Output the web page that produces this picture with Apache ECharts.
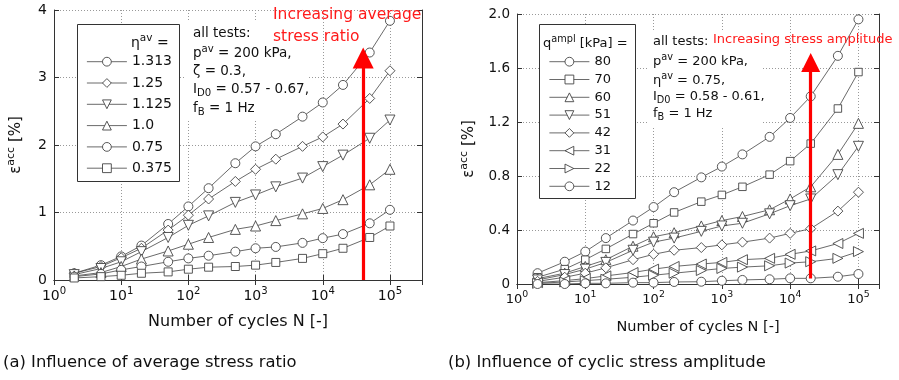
<!DOCTYPE html>
<html><head><meta charset="utf-8">
<script src="https://cdn.jsdelivr.net/npm/echarts@6/dist/echarts.min.js"></script>
<style>html,body{margin:0;padding:0;background:#fff}#c{width:899px;height:380px}</style>
</head><body><div id="c"></div>
<script>
// ---- data ----
const N = [2,5,10,20,50,100,200,500,1000,2000,5000,10000,20000,50000,100000];
// (a) average stress ratio
const etaNames = ['1.313','1.25','1.125','1.0','0.75','0.375'];
const eta1313 = [0.1,0.22,0.35,0.51,0.83,1.09,1.36,1.73,1.98,2.16,2.42,2.63,2.89,3.37,3.84];
const eta125  = [0.1,0.2,0.33,0.47,0.74,0.96,1.2,1.46,1.64,1.79,1.98,2.12,2.31,2.69,3.1];
const eta1125 = [0.08,0.17,0.27,0.42,0.63,0.81,0.95,1.15,1.26,1.38,1.51,1.68,1.85,2.1,2.37];
const eta10   = [0.06,0.11,0.2,0.31,0.43,0.53,0.63,0.75,0.8,0.88,0.98,1.06,1.19,1.41,1.64];
const eta075  = [0.05,0.09,0.15,0.2,0.27,0.32,0.36,0.42,0.47,0.49,0.55,0.62,0.68,0.84,1.04];
const eta0375 = [0.03,0.05,0.07,0.1,0.12,0.16,0.19,0.2,0.22,0.26,0.32,0.39,0.47,0.63,0.8];
// (b) cyclic stress amplitude
const qNames = ['80','70','60','51','42','31','22','12'];
const q80 = [0.08,0.165,0.24,0.34,0.47,0.57,0.68,0.79,0.87,0.96,1.09,1.23,1.39,1.69,1.96];
const q70 = [0.05,0.11,0.18,0.26,0.37,0.45,0.53,0.61,0.66,0.72,0.81,0.91,1.04,1.3,1.57];
const q60 = [0.04,0.08,0.13,0.18,0.28,0.35,0.38,0.43,0.47,0.5,0.55,0.63,0.72,0.96,1.19];
const q51 = [0.03,0.07,0.11,0.16,0.25,0.31,0.34,0.39,0.43,0.45,0.52,0.58,0.63,0.81,1.02];
const q42 = [0.02,0.05,0.08,0.12,0.18,0.22,0.25,0.27,0.29,0.31,0.34,0.375,0.41,0.54,0.68];
const q31 = [0.01,0.025,0.04,0.06,0.085,0.11,0.13,0.148,0.16,0.18,0.19,0.22,0.245,0.3,0.375];
const q22 = [0.005,0.015,0.025,0.035,0.05,0.065,0.08,0.1,0.115,0.125,0.135,0.155,0.165,0.19,0.24];
const q12 = [0,0,0.005,0.005,0.01,0.01,0.015,0.017,0.024,0.03,0.035,0.042,0.042,0.054,0.074];
// axes
const xMinA = 1, xMaxA = 300000, yMaxA = 4, yIntA = 1;
const xMinB = 1, xMaxB = 200000, yMaxB = 2, yIntB = 0.4;
// arrows [N, from, to]
const arrowA = [40000, 0, 3.29];
const arrowB = [20000, 0.04, 1.64];

const FONT = 'DejaVu Sans';
const LC = '#444';
const chart = echarts.init(document.getElementById('c'));

function mk(name, vals, symbol, rot, xi, yi, size) {
  return {name, type:'line', xAxisIndex:xi, yAxisIndex:yi,
    data: N.map((n,i)=>[n, vals[i]]), symbol, symbolRotate: rot, symbolSize: size,
    showAllSymbol:true, lineStyle:{color:LC,width:0.8},
    itemStyle:{color:'#fff',borderColor:LC,borderWidth:0.9},
    emphasis:{disabled:true}, animation:false, z:3};
}
function logLabel(v){ const e=Math.log10(v); const r=Math.round(e); if(Math.abs(e-r)>1e-6) return ''; return '{b|10}{s|'+r+'}'; }
function xAx(gi, pos, max, fs, main, nameGap) {
  return {type:'log', gridIndex:gi, position:pos, min:1, max:max, logBase:10,
    axisLine:{show:true,lineStyle:{color:'#333',width:1}},
    axisTick:{show:true,inside:true,length:5,lineStyle:{color:'#333'}},
    minorTick:{show:false},
    splitLine:{show:main,lineStyle:{color:'#999',type:[1,2],width:1}},
    axisLabel:{show:main,formatter:logLabel,margin:6,color:'#111',
      rich:{b:{fontSize:fs,fontFamily:FONT,color:'#111'},s:{fontSize:fs*0.72,fontFamily:FONT,color:'#111',padding:[0,0,fs*0.75,0]}}},
    name: main ? 'Number of cycles N [-]' : '', nameLocation:'middle', nameGap:nameGap,
    nameTextStyle:{fontSize: gi===0?16:14.5, fontFamily:FONT, color:'#111'}};
}
function yAx(gi, pos, max, interval, fs, main, nameGap, fmt) {
  return {type:'value', gridIndex:gi, position:pos, min:0, max:max, interval:interval,
    axisLine:{show:true,lineStyle:{color:'#333',width:1}},
    axisTick:{show:true,inside:true,length:5,lineStyle:{color:'#333'}},
    splitLine:{show:main,lineStyle:{color:'#999',type:[1,2],width:1}},
    axisLabel:{show:main,fontSize:fs,fontFamily:FONT,color:'#111',margin:7,formatter:fmt},
    name: main ? '{e|ε}{s|acc}{e| [%]}' : '', nameLocation:'middle', nameRotate:90, nameGap:nameGap,
    nameTextStyle:{rich:{e:{fontSize:15,fontFamily:FONT,color:'#111'},s:{fontSize:11,fontFamily:FONT,color:'#111',padding:[0,0,9,0]}}}};
}

const seriesA = [
  mk(etaNames[0], eta1313, 'circle', 0, 0, 0, 9),
  mk(etaNames[1], eta125, 'diamond', 0, 0, 0, 10),
  mk(etaNames[2], eta1125, 'triangle', 180, 0, 0, 10),
  mk(etaNames[3], eta10, 'triangle', 0, 0, 0, 10),
  mk(etaNames[4], eta075, 'circle', 0, 0, 0, 9),
  mk(etaNames[5], eta0375, 'rect', 0, 0, 0, 8),
];
const seriesB = [
  mk(qNames[0], q80, 'circle', 0, 2, 2, 9),
  mk(qNames[1], q70, 'rect', 0, 2, 2, 7.5),
  mk(qNames[2], q60, 'triangle', 0, 2, 2, 10),
  mk(qNames[3], q51, 'triangle', 180, 2, 2, 10),
  mk(qNames[4], q42, 'diamond', 0, 2, 2, 10),
  mk(qNames[5], q31, 'triangle', 90, 2, 2, 10),
  mk(qNames[6], q22, 'triangle', -90, 2, 2, 10),
  mk(qNames[7], q12, 'circle', 0, 2, 2, 9),
];
function arrowLine(a, size){
  return {silent:true, animation:false, symbol:['none','triangle'], symbolSize:size,
    label:{show:false}, lineStyle:{color:'#ff0000',width:3.2,type:'solid'},
    data:[[{coord:[a[0],a[1]]},{coord:[a[0],a[2]]}]], z:10};
}
seriesA[5].markLine = arrowLine(arrowA, 21);
seriesB[7].markLine = arrowLine(arrowB, 19);

const supR = (fs)=>({n:{fontSize:fs,fontFamily:FONT,fill:'#111'}, s:{fontSize:fs*0.75,fontFamily:FONT,fill:'#111',padding:[0,0,fs*0.7,0]}, d:{fontSize:fs*0.75,fontFamily:FONT,fill:'#111',padding:[fs*0.6,0,0,0]}});

const graphic = [
  {type:'rect', shape:{x:186,y:22,width:122,height:97}, style:{fill:'#fff'}, z:1},
  {type:'rect', shape:{x:648,y:30,width:115,height:98}, style:{fill:'#fff'}, z:1},
  {type:'rect', shape:{x:77.5,y:24.5,width:102,height:157}, style:{fill:'#fff',stroke:'#333',lineWidth:1}, z:2},
  {type:'rect', shape:{x:539.5,y:24.5,width:96,height:174}, style:{fill:'#fff',stroke:'#333',lineWidth:1}, z:2},
  // legend titles
  {type:'text', z:20, style:{text:'{n|η}{s|av}{n| =}', x:131, y:33, rich:supR(14), fontFamily:FONT}},
  {type:'text', z:20, style:{text:'{n|q}{s|ampl}{n| [kPa] =}', x:543, y:34, rich:supR(13), fontFamily:FONT}},
  // annotation (a)
  {type:'text', z:20, style:{text:'{n|all tests:}', x:193, y:26, rich:supR(13.5), fontFamily:FONT}},
  {type:'text', z:20, style:{text:'{n|p}{s|av}{n| = 200 kPa,}', x:193, y:44, rich:supR(13.5), fontFamily:FONT}},
  {type:'text', z:20, style:{text:'{n|ζ = 0.3,}', x:193, y:64, rich:supR(13.5), fontFamily:FONT}},
  {type:'text', z:20, style:{text:'{n|I}{d|D0}{n| = 0.57 - 0.67,}', x:193, y:80, rich:supR(13.5), fontFamily:FONT}},
  {type:'text', z:20, style:{text:'{n|f}{d|B}{n| = 1 Hz}', x:193, y:99, rich:supR(13.5), fontFamily:FONT}},
  // annotation (b)
  {type:'text', z:20, style:{text:'{n|all tests:}', x:653, y:35, rich:supR(13), fontFamily:FONT}},
  {type:'text', z:20, style:{text:'{n|p}{s|av}{n| = 200 kPa,}', x:653, y:52, rich:supR(13), fontFamily:FONT}},
  {type:'text', z:20, style:{text:'{n|η}{s|av}{n| = 0.75,}', x:653, y:71, rich:supR(13), fontFamily:FONT}},
  {type:'text', z:20, style:{text:'{n|I}{d|D0}{n| = 0.58 - 0.61,}', x:653, y:88, rich:supR(13), fontFamily:FONT}},
  {type:'text', z:20, style:{text:'{n|f}{d|B}{n| = 1 Hz}', x:653, y:105, rich:supR(13), fontFamily:FONT}},
  // red annotations
  {type:'text', z:20, style:{text:'Increasing average', x:273, y:15, fontSize:15.5, fontFamily:FONT, fill:'#ff1a1a', verticalAlign:'middle'}},
  {type:'text', z:20, style:{text:'stress ratio', x:273, y:36.5, fontSize:15.5, fontFamily:FONT, fill:'#ff1a1a', verticalAlign:'middle'}},
  {type:'text', z:20, style:{text:'Increasing stress amplitude', x:713, y:40, fontSize:13, fontFamily:FONT, fill:'#ff1a1a', verticalAlign:'middle'}},
  // captions
  {type:'text', z:20, style:{text:'(a) Influence of average stress ratio', x:3, y:363, fontSize:16.4, fontFamily:FONT, fill:'#111', verticalAlign:'middle'}},
  {type:'text', z:20, style:{text:'(b) Influence of cyclic stress amplitude', x:448, y:363, fontSize:16.4, fontFamily:FONT, fill:'#111', verticalAlign:'middle'}},
];

chart.setOption({
  animation:false,
  backgroundColor:'#fff',
  grid:[{left:54,top:10,width:368,height:270},{left:517,top:14,width:362,height:270}],
  xAxis:[xAx(0,'bottom',xMaxA,14,true,34), xAx(0,'top',xMaxA,14,false,0),
         xAx(1,'bottom',xMaxB,13,true,36), xAx(1,'top',xMaxB,13,false,0)],
  yAxis:[yAx(0,'left',yMaxA,yIntA,14,true,28,v=>String(v)), yAx(0,'right',yMaxA,yIntA,14,false,0),
         yAx(1,'left',yMaxB,yIntB,13.5,true,38,v=>v===0?'0':v.toFixed(1)), yAx(1,'right',yMaxB,yIntB,13.5,false,0)],
  legend:[
    {data:etaNames, orient:'vertical', left:86.5, top:54.7, itemWidth:40, itemHeight:11, itemGap:7.3, padding:0, z:4,
     lineStyle:{width:0.8,color:LC}, itemStyle:{borderWidth:0.9,borderColor:LC,color:'#fff'},
     textStyle:{fontSize:14,fontFamily:FONT,color:'#111'}, selectedMode:false},
    {data:qNames, orient:'vertical', left:549, top:55.2, itemWidth:40, itemHeight:11, itemGap:4.8, padding:0, z:4,
     lineStyle:{width:0.8,color:LC}, itemStyle:{borderWidth:0.9,borderColor:LC,color:'#fff'},
     textStyle:{fontSize:13,fontFamily:FONT,color:'#111'}, selectedMode:false}
  ],
  graphic: graphic,
  series: seriesA.concat(seriesB)
});
</script></body></html>
